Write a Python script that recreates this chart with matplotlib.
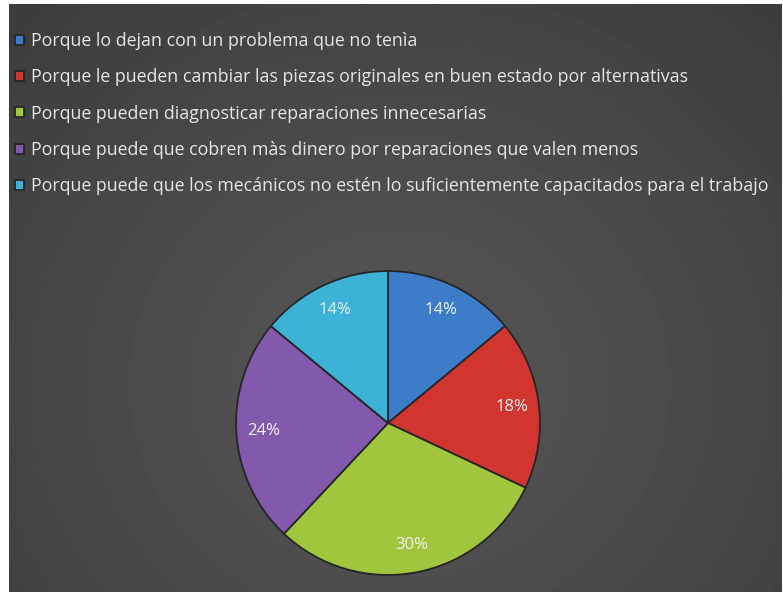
import numpy as np
import matplotlib.pyplot as plt

labels = [
    'Porque lo dejan con un problema que no tenìa',
    'Porque le pueden cambiar las piezas originales en buen estado por alternativas',
    'Porque pueden diagnosticar reparaciones innecesarias',
    'Porque puede que cobren màs dinero por reparaciones que valen menos',
    'Porque puede que los mecánicos no estén lo suficientemente capacitados para el trabajo',
]
values = [14, 18, 30, 24, 14]
colors = ['#3d7cc9', '#d2352f', '#a2c53e', '#8259ad', '#3bb2d6']

W, H = 783, 592
fig = plt.figure(figsize=(W / 100, H / 100), dpi=100, facecolor='white')

# dark background with soft radial light
bg = fig.add_axes([9 / W, 0, 773 / W, 588 / H])
yy, xx = np.mgrid[0:588, 0:773]
d = np.sqrt(((xx - 390) / 520) ** 2 + ((yy - 380) / 480) ** 2)
shade = np.clip(0.345 - 0.10 * d, 0.2, 0.4)
bg.imshow(shade, cmap='gray', vmin=0, vmax=1, aspect='auto', interpolation='bilinear')
bg.axis('off')

# pie
r = 155
ax = fig.add_axes([(388 - r) / W, (H - 423 - r) / H, 2 * r / W, 2 * r / H])
wedges, _, autotexts = ax.pie(
    values, colors=colors, startangle=90, counterclock=False,
    autopct='%1.0f%%', pctdistance=0.82,
    wedgeprops=dict(edgecolor='#262626', linewidth=1.3),
    textprops=dict(color='#f2f2f2', fontsize=12, family='Open Sans'),
)
ax.set_xlim(-1.02, 1.02)
ax.set_ylim(-1.02, 1.02)
ax.set_aspect('equal')

fig.legend(wedges, labels, loc='upper left', bbox_to_anchor=(15 / W, 1 - 32 / H),
           frameon=False, labelcolor='#e6e6e6',
           prop=dict(family='Open Sans', size=12.8),
           handlelength=0.5, handleheight=0.5, handletextpad=0.42,
           labelspacing=1.03, borderpad=0, borderaxespad=0)

fig.savefig('out.png', dpi=100, facecolor=fig.get_facecolor())
